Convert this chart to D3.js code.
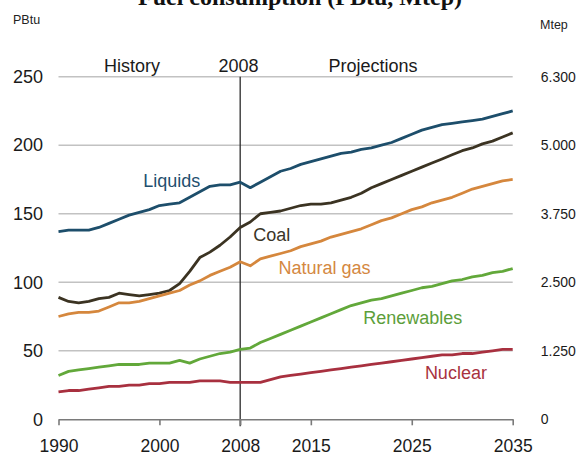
<!DOCTYPE html>
<html>
<head>
<meta charset="utf-8">
<script src="https://cdn.jsdelivr.net/npm/d3@7"></script>
<style>
  body { margin: 0; background: #fff; }
  svg { display: block; font-family: "Liberation Sans", Arial, sans-serif; }
</style>
</head>
<body>
<svg width="582" height="453"></svg>
<script>
var APP = APP || {};

// years 1990 .. 2035
var years = [1990,1991,1992,1993,1994,1995,1996,1997,1998,1999,
             2000,2001,2002,2003,2004,2005,2006,2007,2008,2009,
             2010,2011,2012,2013,2014,2015,2016,2017,2018,2019,
             2020,2021,2022,2023,2024,2025,2026,2027,2028,2029,
             2030,2031,2032,2033,2034,2035];
var liquids = [137,138,138,138,140,143,146,149,151,153,
               156,157,158,162,166,170,171,171,173,169,
               173,177,181,183,186,188,190,192,194,195,
               197,198,200,202,205,208,211,213,215,216,
               217,218,219,221,223,225];
var coal = [89,86,85,86,88,89,92,91,90,91,
            92,94,99,108,118,122,127,133,140,144,
            150,151,152,154,156,157,157,158,160,162,
            165,169,172,175,178,181,184,187,190,193,
            196,198,201,203,206,209];
var naturalGas = [75,77,78,78,79,82,85,85,86,88,
                  90,92,94,98,101,105,108,111,115,112,
                  117,119,121,123,126,128,130,133,135,137,
                  139,142,145,147,150,153,155,158,160,162,
                  165,168,170,172,174,175];
var renewables = [32,35,36,37,38,39,40,40,40,41,
                  41,41,43,41,44,46,48,49,51,52,
                  56,59,62,65,68,71,74,77,80,83,
                  85,87,88,90,92,94,96,97,99,101,
                  102,104,105,107,108,110];
var nuclear = [20,21,21,22,23,24,24,25,25,26,
               26,27,27,27,28,28,28,27,27,27,
               27,29,31,32,33,34,35,36,37,38,
               39,40,41,42,43,44,45,46,47,47,
               48,48,49,50,51,51];

var seriesNames = ["Liquids", "Coal", "Natural gas", "Renewables", "Nuclear"];
var seriesColors = ["#1d4e6b", "#3b3322", "#d5873d", "#62a83a", "#a8303f"];
var labelColors = ["#1f4f6e", "#3a3528", "#d4883f", "#5c9e3a", "#a83240"];
// where each series name starts: [year, value]
var labelYears = [1998.4, 2009.3, 2011.8, 2020.2, 2026.3];
var labelValues = [174, 135, 110.4, 73.9, 33.8];

var leftTicks = [0, 50, 100, 150, 200, 250];
var rightTickLabels = ["0", "1.250", "2.500", "3.750", "5.000", "6.300"];
var xTicks = [1990, 2000, 2008, 2015, 2025, 2035];
var splitYear = 2008;

APP.draw = function () {
    var svg = d3.select("svg");
    var x = d3.scaleLinear().domain([1990, 2035]).range([58.5, 512.7]);
    var y = d3.scaleLinear().domain([0, 250]).range([419.3, 76.7]);

    // cut-off title at the very top
    svg.append("text")
        .attr("x", 462).attr("y", 5)
        .attr("text-anchor", "end")
        .style("font-family", "'Liberation Serif', 'Times New Roman', serif")
        .style("font-weight", "bold")
        .style("font-size", "24px")
        .attr("fill", "#111")
        .text("Fuel consumption (PBtu, Mtep)");

    // unit labels
    svg.append("text").attr("x", 13).attr("y", 24)
        .style("font-size", "12.5px").attr("fill", "#222").text("PBtu");
    svg.append("text").attr("x", 540).attr("y", 29)
        .style("font-size", "12.5px").attr("fill", "#222").text("Mtep");

    // gridlines
    svg.append("g").selectAll("line")
        .data(leftTicks.filter(d => d > 0))
        .enter().append("line")
            .attr("x1", x(1990)).attr("x2", x(2035))
            .attr("y1", d => y(d)).attr("y2", d => y(d))
            .attr("stroke", "#c2c2c2")
            .attr("stroke-width", 1.4);

    // left axis
    var left = svg.append("g")
        .attr("transform", "translate(" + x(1990) + ",0)")
        .call(d3.axisLeft(y).tickValues(leftTicks).tickSize(0).tickPadding(15.5));
    left.select(".domain").remove();
    left.selectAll("text")
        .style("font-size", "18px")
        .style("font-family", "'Liberation Sans', Arial, sans-serif")
        .attr("fill", "#1a1a1a");

    // right axis (Mtep)
    var right = svg.append("g")
        .attr("transform", "translate(" + x(2035) + ",0)")
        .call(d3.axisRight(y).tickValues(leftTicks).tickSize(0).tickPadding(28)
            .tickFormat((d, i) => rightTickLabels[i]));
    right.select(".domain").remove();
    right.selectAll("text")
        .style("font-size", "14px")
        .style("font-family", "'Liberation Sans', Arial, sans-serif")
        .attr("fill", "#1a1a1a");

    // 2008 divider
    svg.append("line")
        .attr("x1", x(splitYear)).attr("x2", x(splitYear))
        .attr("y1", y(250)).attr("y2", y(0) + 7)
        .attr("stroke", "#2a2a2a")
        .attr("stroke-width", 1.3);

    // bottom axis
    var bottom = svg.append("g")
        .attr("transform", "translate(0," + y(0) + ")")
        .call(d3.axisBottom(x).tickValues(xTicks).tickSize(6).tickPadding(14)
            .tickFormat(d3.format("d")).tickSizeOuter(0));
    bottom.select(".domain").attr("stroke", "#7a7a7a").attr("stroke-width", 1.6);
    bottom.selectAll(".tick line").attr("stroke", "#7a7a7a").attr("stroke-width", 1.6);
    bottom.selectAll("text")
        .style("font-size", "17.5px")
        .style("font-family", "'Liberation Sans', Arial, sans-serif")
        .attr("fill", "#1a1a1a");

    // header texts
    var header = [["History", 132], ["2008", 238.5], ["Projections", 373]];
    svg.append("g").selectAll("text")
        .data(header)
        .enter().append("text")
            .attr("x", d => d[1]).attr("y", 72)
            .attr("text-anchor", "middle")
            .style("font-size", "18px")
            .attr("fill", "#1a1a1a")
            .text(d => d[0]);

    // series
    var allSeries = [liquids, coal, naturalGas, renewables, nuclear];
    var line = d3.line()
        .x((d, i) => x(years[i]))
        .y(d => y(d));
    svg.append("g").selectAll("path")
        .data(allSeries)
        .enter().append("path")
            .attr("d", line)
            .attr("fill", "none")
            .attr("stroke", (d, i) => seriesColors[i])
            .attr("stroke-width", 2.8)
            .attr("stroke-linejoin", "round");

    // series labels
    svg.append("g").selectAll("text")
        .data(seriesNames)
        .enter().append("text")
            .attr("x", (d, i) => x(labelYears[i]))
            .attr("y", (d, i) => y(labelValues[i]))
            .attr("dy", "0.35em")
            .style("font-size", "18px")
            .attr("fill", (d, i) => labelColors[i])
            .text(d => d);
};

APP.draw();
</script>
</body>
</html>
